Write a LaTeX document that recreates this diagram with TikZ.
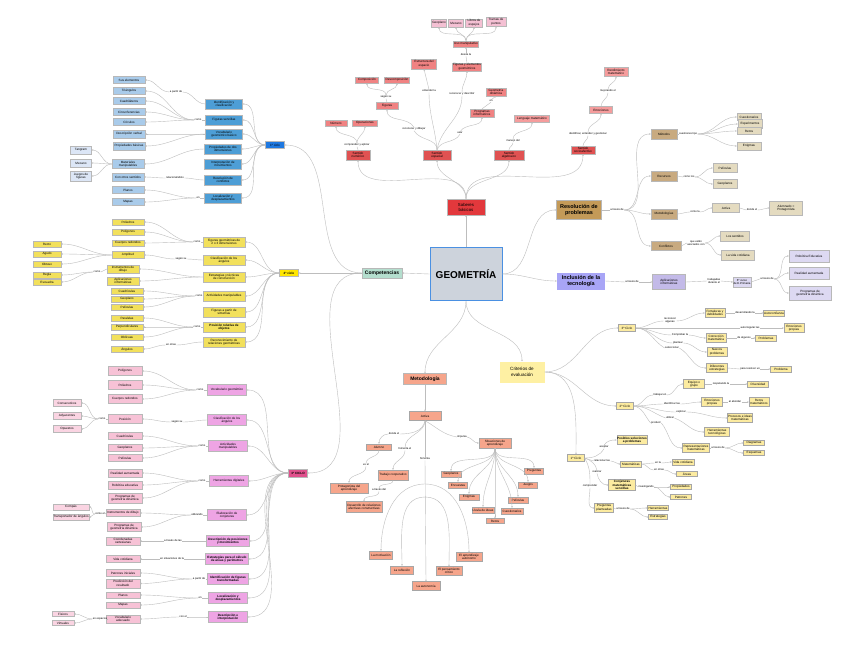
\documentclass[tikz,border=0pt]{standalone}
\usepackage{fontspec}
\setmainfont{Liberation Sans}
\usetikzlibrary{arrows.meta}

\definecolor{lineGray}{HTML}{BDBDBD}
\definecolor{centerFill}{HTML}{CDD3DC}
\definecolor{centerBorder}{HTML}{4A90E2}
\definecolor{redStrong}{HTML}{E2383C}
\definecolor{redSense}{HTML}{E05252}
\definecolor{redMid}{HTML}{F08282}
\definecolor{redSoft}{HTML}{F59C9C}
\definecolor{redLeaf}{HTML}{F4C0D3}
\definecolor{greenTopic}{HTML}{B4DECE}
\definecolor{salmonTopic}{HTML}{F6A58B}
\definecolor{creamTopic}{HTML}{FEF0A3}
\definecolor{tanStrong}{HTML}{C49A58}
\definecolor{tanMid}{HTML}{C8AA80}
\definecolor{tanLeaf}{HTML}{E4DBC0}
\definecolor{lilacStrong}{HTML}{A8A5F6}
\definecolor{lilacMid}{HTML}{C3BAE8}
\definecolor{lilacLeaf}{HTML}{DDD9F2}
\definecolor{blueCycle}{HTML}{1E78E0}
\definecolor{blueMid}{HTML}{4D9ED6}
\definecolor{blueLeaf}{HTML}{A9CBEA}
\definecolor{blueFar}{HTML}{DCE6F6}
\definecolor{yellowCycle}{HTML}{FFE600}
\definecolor{yellowNode}{HTML}{F2E05C}
\definecolor{roseCycle}{HTML}{E0508C}
\definecolor{roseMid}{HTML}{EEA4E4}
\definecolor{roseLeaf}{HTML}{F7C2D6}
\definecolor{roseFar}{HTML}{FAD4E2}
\definecolor{creamNode}{HTML}{FCEBA0}

\begin{document}
\begin{tikzpicture}[x=1pt, y=-1pt,
    geoBox/.style={draw=black!28, line width=0.3pt, inner sep=0.4pt, align=center, font=\fontsize{3.1}{3.6}\selectfont},
    geoBold/.style={font=\fontsize{3.1}{3.6}\selectfont\bfseries},
    geoLabel/.style={inner sep=0.3pt, align=center, font=\fontsize{2.7}{3.1}\selectfont},
    geoLine/.style={draw=lineGray, line width=0.4pt},
    geoArrow/.style={geoLine, -{Stealth[length=1.8pt, width=1.6pt]}},
    geoCenter/.style={draw=centerBorder, line width=0.8pt, fill=centerFill, minimum width=72pt, minimum height=53pt, font=\fontsize{10}{12}\selectfont\bfseries},
    geoTopic/.style={geoBox, font=\fontsize{5}{6}\selectfont\bfseries},
    geoBigTopic/.style={geoBox, font=\fontsize{5.5}{6.6}\selectfont\bfseries},
    geoBlueCycle/.style={geoBox, fill=blueCycle, minimum width=19pt, minimum height=7pt},
    geoBlueMid/.style={geoBox, fill=blueMid, minimum width=37pt, minimum height=10pt},
    geoBlueLeaf/.style={geoBox, fill=blueLeaf, minimum width=32pt, minimum height=7pt},
    geoBlueFar/.style={geoBox, fill=blueFar, minimum width=21pt, minimum height=8pt},
    geoYellowCycle/.style={geoBox, fill=yellowCycle, minimum width=19pt, minimum height=7pt, geoBold},
    geoYellowMid/.style={geoBox, fill=yellowNode, minimum width=42pt, minimum height=10pt},
    geoYellowLeaf/.style={geoBox, fill=yellowNode, minimum width=32pt, minimum height=6.5pt},
    geoYellowFar/.style={geoBox, fill=yellowNode, minimum width=28pt, minimum height=6pt},
    geoRoseCycle/.style={geoBox, fill=roseCycle, minimum width=19pt, minimum height=8pt, geoBold},
    geoRoseMid/.style={geoBox, fill=roseMid, minimum width=39pt, minimum height=11pt},
    geoRoseLeaf/.style={geoBox, fill=roseLeaf, minimum width=34pt, minimum height=7pt},
    geoRoseFar/.style={geoBox, fill=roseFar, minimum width=28pt, minimum height=7pt},
    geoSense/.style={geoBox, fill=redSense, minimum width=26pt, minimum height=10pt},
    geoRedMid/.style={geoBox, fill=redMid, minimum width=22pt, minimum height=6.5pt},
    geoRedSoft/.style={geoBox, fill=redSoft, minimum width=23pt, minimum height=7pt},
    geoRedLeaf/.style={geoBox, fill=redLeaf, minimum width=15pt, minimum height=8pt},
    geoTanMid/.style={geoBox, fill=tanMid, minimum width=26pt, minimum height=10pt},
    geoTanLeaf/.style={geoBox, fill=tanLeaf, minimum width=24pt, minimum height=7pt},
    geoLilacLeaf/.style={geoBox, fill=lilacLeaf, minimum width=40pt, minimum height=12pt},
    geoCream/.style={geoBox, fill=creamNode, draw=black!35, minimum width=21pt, minimum height=6pt},
    geoSalmon/.style={geoBox, fill=salmonTopic, draw=black!35, minimum width=20pt, minimum height=6pt}]

    \fill[white] (0,0) rectangle (848,655);
    \useasboundingbox (0,0) rectangle (848,655);

    % centro y ramas principales
    \node[geoCenter] (geo) at (466,274) {GEOMETRÍA};
    \node[geoBox, fill=redStrong, minimum width=38pt, minimum height=16pt, font=\fontsize{4.3}{5}\selectfont] (sab) at (466,207) {Saberes\\básicos};
    \node[geoTopic, fill=greenTopic, minimum width=40pt, minimum height=10pt] (comp) at (382,273) {Competencias};
    \node[geoTopic, fill=salmonTopic, minimum width=43pt, minimum height=11pt] (met) at (425,379) {Metodología};
    \node[geoBox, fill=creamTopic, draw=none, minimum width=45pt, minimum height=21pt, font=\fontsize{4.6}{5.6}\selectfont] (crit) at (522,372) {Criterios de\\evaluación};
    \node[geoBigTopic, fill=tanStrong, minimum width=45pt, minimum height=19pt] (resol) at (579,210) {Resolución de\\problemas};
    \node[geoBigTopic, fill=lilacStrong, draw=none, minimum width=48pt, minimum height=17pt] (inclus) at (581,281) {Inclusión de la\\tecnología};

    \draw[geoArrow] (geo.north) -- (sab.south);
    \draw[geoArrow] (geo.west) -- (comp.east);
    \draw[geoArrow] (geo.south) to[out=-90, in=90] (met.north);
    \draw[geoArrow] (geo.south) to[out=-90, in=90] (crit.north);
    \draw[geoArrow] (geo.east) to[out=0, in=180] (resol.west);
    \draw[geoArrow] (geo.east) to[out=0, in=180] (inclus.west);

    % saberes basicos
    \node[geoSense, minimum width=24pt] (senNum) at (358,155) {Sentido\\numérico};
    \node[geoSense, minimum width=28pt] (senEsp) at (437,155) {Sentido\\espacial};
    \node[geoSense, minimum width=30pt] (senAlg) at (509,155) {Sentido\\algebraico};
    \node[geoSense, minimum width=24pt, minimum height=8pt] (senSoc) at (583,150) {Sentido\\socioafectivo};
    \node[geoRedMid] (numero) at (336,123) {Número};
    \node[geoRedMid, minimum width=25pt] (operac) at (365,123) {Operaciones};
    \node[geoRedMid, minimum height=7pt] (figuras) at (387,106) {Figuras};
    \node[geoRedMid, minimum width=23pt] (compos) at (367,80) {Composición};
    \node[geoRedMid, minimum width=25pt] (descomp) at (397,80) {Descomposición};
    \node[geoRedMid, minimum width=25pt, minimum height=10pt] (estEsp) at (424,64) {Estructura del\\espacio};
    \node[geoRedMid, minimum width=29pt, minimum height=8pt] (figEle) at (467,67) {Figuras y elementos\\geométricos};
    \node[geoRedMid, minimum width=25pt] (usoMan) at (466,44) {Uso manipulativo};
    \node[geoRedLeaf] (geopTop) at (439,23) {Geoplano};
    \node[geoRedLeaf] (mecTop) at (456,23) {Mecano};
    \node[geoRedLeaf, minimum width=17pt] (libEsp) at (474,23) {Libros de\\espejos};
    \node[geoRedLeaf, minimum width=20pt, minimum height=9pt] (traPun) at (496,22) {Tramas de\\puntos};
    \node[geoRedMid, minimum width=20pt, minimum height=8pt] (geoDin) at (496,92) {Geometría\\dinámica};
    \node[geoRedMid, minimum width=24pt, minimum height=8pt] (progInf) at (482,113) {Programas\\informáticos};
    \node[geoRedSoft, minimum width=35pt] (lenMat) at (532,119) {Lenguaje matemático};
    \node[geoRedSoft] (emoc) at (601,110) {Emociones};
    \node[geoRedSoft, minimum width=24pt, minimum height=9pt] (rendMat) at (616,72) {Rendimiento\\matemático};

    \node[geoLabel] (lbCompApl) at (357,145) {comprender y aplicar};
    \node[geoLabel] (lbRecDib) at (414,129) {reconocer y dibujar};
    \node[geoLabel] (lbSegunTop) at (386,97) {según su};
    \node[geoLabel] (lbEntender) at (429,91) {entender la};
    \node[geoLabel] (lbRecDes) at (462,94) {reconocer y describir};
    \node[geoLabel] (lbDesdeLa) at (466,55) {desde la};
    \node[geoLabel] (lbUsar) at (460,133) {usar};
    \node[geoLabel] (lbEnTop) at (491,101) {en};
    \node[geoLabel] (lbManejo) at (513,141) {manejo del};
    \node[geoLabel] (lbIdent) at (588,134) {identificar, entender y gestionar};
    \node[geoLabel] (lbMejor) at (608,91) {mejorando el};

    \foreach \s in {senNum,senEsp,senAlg,senSoc}
        \draw[geoArrow] (sab.north) to[out=90, in=-90] (\s.south);
    \draw[geoLine] (senNum.north) -- (lbCompApl.south);
    \draw[geoArrow] (lbCompApl.north) to[out=90, in=-90] (numero.south);
    \draw[geoArrow] (lbCompApl.north) to[out=90, in=-90] (operac.south);
    \draw[geoLine] (senEsp.north) to[out=90, in=-60] (lbRecDib.south);
    \draw[geoArrow] (lbRecDib.north) to[out=120, in=-90] (figuras.south);
    \draw[geoLine] (figuras.north) -- (lbSegunTop.south);
    \draw[geoArrow] (lbSegunTop.north) to[out=90, in=-90] (compos.south);
    \draw[geoArrow] (lbSegunTop.north) to[out=90, in=-90] (descomp.south);
    \draw[geoLine] (senEsp.north) to[out=95, in=-90] (lbEntender.south);
    \draw[geoArrow] (lbEntender.north) -- (estEsp.south);
    \draw[geoLine] (senEsp.north) to[out=80, in=-90] (lbRecDes.south);
    \draw[geoArrow] (lbRecDes.north) to[out=90, in=-90] (figEle.south);
    \draw[geoLine] (figEle.north) -- (lbDesdeLa.south);
    \draw[geoArrow] (lbDesdeLa.north) -- (usoMan.south);
    \foreach \s in {geopTop,mecTop,libEsp,traPun}
        \draw[geoArrow] (usoMan.north) to[out=90, in=-90] (\s.south);
    \draw[geoLine] (senEsp.north) to[out=70, in=-120] (lbUsar.south);
    \draw[geoArrow] (lbUsar.north) to[out=60, in=-90] (progInf.south);
    \draw[geoLine] (progInf.north) -- (lbEnTop.south);
    \draw[geoArrow] (lbEnTop.north) -- (geoDin.south);
    \draw[geoLine] (senAlg.north) to[out=90, in=-90] (lbManejo.south);
    \draw[geoArrow] (lbManejo.north) to[out=90, in=-90] (lenMat.south);
    \draw[geoLine] (senSoc.north) to[out=90, in=-90] (lbIdent.south);
    \draw[geoArrow] (lbIdent.north) to[out=90, in=-90] (emoc.south);
    \draw[geoLine] (emoc.north) to[out=90, in=-90] (lbMejor.south);
    \draw[geoArrow] (lbMejor.north) to[out=90, in=-90] (rendMat.south);

    % ciclos de competencias
    \node[geoBlueCycle] (cicloUno) at (275,145) {1º ciclo};
    \node[geoYellowCycle] (cicloDos) at (289,273) {2º ciclo};
    \node[geoRoseCycle] (cicloTres) at (298,473) {3º CICLO};
    \draw[geoArrow] (comp.west) to[out=180, in=0] (cicloUno.east);
    \draw[geoArrow] (comp.west) -- (cicloDos.east);
    \draw[geoArrow] (comp.west) to[out=180, in=0] (cicloTres.east);

    % primer ciclo
    \node[geoBlueMid] (idCla) at (224,104) {Identificación y\\clasificación};
    \node[geoBlueMid] (figSen) at (224,120) {Figuras sencillas};
    \node[geoBlueMid] (vocBas) at (224,134) {Vocabulario\\geométrico básico};
    \node[geoBlueMid] (propDos) at (223,149) {Propiedades de dos\\dimensiones};
    \node[geoBlueMid] (intMov) at (223,164) {Interpretación de\\movimientos};
    \node[geoBlueMid] (resCon) at (223,180) {Resolución de\\conflictos};
    \node[geoBlueMid] (locDesUno) at (223,198) {Localización y\\desplazamientos};
    \foreach \s in {idCla,figSen,vocBas,propDos,intMov,resCon,locDesUno}
        \draw[geoArrow] (cicloUno.west) to[out=180, in=0] (\s.east);

    \node[geoBlueLeaf] (susEle) at (129,80) {Sus elementos};
    \node[geoBlueLeaf] (triUno) at (129,91) {Triángulos};
    \node[geoBlueLeaf] (cuaUno) at (129,101) {Cuadriláteros};
    \node[geoBlueLeaf] (cirfUno) at (129,112) {Circunferencias};
    \node[geoBlueLeaf] (cirUno) at (129,122) {Círculos};
    \node[geoBlueLeaf, minimum height=8pt] (desVer) at (129,134) {Descripción verbal};
    \node[geoBlueLeaf, minimum height=8pt] (propBas) at (129,146) {Propiedades básicas};
    \node[geoBlueLeaf, minimum height=9pt] (matMan) at (128,164) {Materiales\\manipulables};
    \node[geoBlueLeaf, minimum height=8pt] (otrSen) at (128,177) {Con otros sentidos};
    \node[geoBlueLeaf] (planUno) at (128,190) {Planos};
    \node[geoBlueLeaf] (mapUno) at (128,202) {Mapas};
    \node[geoBlueFar] (tangram) at (81,150) {Tangram};
    \node[geoBlueFar] (mecUno) at (81,163) {Mecano};
    \node[geoBlueFar, minimum height=10pt] (juegFig) at (81,176) {Juegos de\\figuras};

    \node[geoLabel] (lbApDeUno) at (176,92) {a partir de};
    \node[geoLabel] (lbComoUno) at (198,120) {como};
    \node[geoLabel] (lbRelac) at (175,178) {relacionándolo};
    \node[geoLabel] (lbEnUno) at (198,198) {en};

    \draw[geoLine] (idCla.west) to[out=180, in=0] (lbApDeUno.east);
    \draw[geoArrow] (lbApDeUno.west) to[out=180, in=0] (susEle.east);
    \draw[geoLine] (figSen.west) -- (lbComoUno.east);
    \foreach \s in {triUno,cuaUno,cirfUno,cirUno}
        \draw[geoArrow] (lbComoUno.west) to[out=180, in=0] (\s.east);
    \draw[geoArrow] (vocBas.west) to[out=180, in=0] (desVer.east);
    \draw[geoArrow] (vocBas.west) to[out=180, in=0] (propBas.east);
    \draw[geoArrow] (propDos.west) to[out=180, in=0] (matMan.east);
    \foreach \s in {tangram,mecUno,juegFig}
        \draw[geoArrow] (matMan.west) to[out=180, in=0] (\s.east);
    \draw[geoLine] (resCon.west) to[out=180, in=0] (lbRelac.east);
    \draw[geoArrow] (lbRelac.west) to[out=180, in=0] (otrSen.east);
    \draw[geoLine] (locDesUno.west) -- (lbEnUno.east);
    \draw[geoArrow] (lbEnUno.west) to[out=180, in=0] (planUno.east);
    \draw[geoArrow] (lbEnUno.west) to[out=180, in=0] (mapUno.east);

    % segundo ciclo
    \node[geoYellowMid] (figDim) at (224,242) {Figuras geométricas de\\2 o 3 dimensiones};
    \node[geoYellowMid] (claAngDos) at (224,260) {Clasificación de los\\ángulos};
    \node[geoYellowMid] (estTec) at (224,277) {Estrategias y técnicas\\de construcción};
    \node[geoYellowMid] (actManDos) at (224,296) {Actividades manipulables};
    \node[geoYellowMid] (figSim) at (224,312) {Figuras a partir de\\simetrías};
    \node[geoYellowMid, geoBold] (posRel) at (224,327) {Posición relativa de\\objetos};
    \node[geoYellowMid] (recRel) at (224,342) {Reconocimiento de\\relaciones geométricas};
    \foreach \s in {figDim,claAngDos,estTec,actManDos,figSim,posRel,recRel}
        \draw[geoArrow] (cicloDos.west) to[out=180, in=0] (\s.east);

    \node[geoYellowLeaf] (poliDos) at (128,222) {Poliedros};
    \node[geoYellowLeaf] (poligDos) at (128,232) {Polígonos};
    \node[geoYellowLeaf] (cuerDos) at (128,243) {Cuerpos redondos};
    \node[geoYellowLeaf, minimum height=7pt] (amplitud) at (128,255) {Amplitud};
    \node[geoYellowLeaf, minimum height=8pt] (instDos) at (123,269) {Instrumentos de\\dibujo};
    \node[geoYellowLeaf, minimum height=8pt] (aplDos) at (123,281) {Aplicaciones\\informáticas};
    \node[geoYellowLeaf, minimum height=6pt] (cuadDos) at (127,291) {Cuadrículas};
    \node[geoYellowLeaf, minimum height=6pt] (geopDos) at (127,299) {Geoplano};
    \node[geoYellowLeaf, minimum height=6pt] (pelDos) at (127,307) {Películas};
    \node[geoYellowLeaf] (parDos) at (127,318) {Paralelas};
    \node[geoYellowLeaf] (perpDos) at (127,327) {Perpendiculares};
    \node[geoYellowLeaf] (oblDos) at (127,337) {Oblicuas};
    \node[geoYellowLeaf] (angDos) at (127,349) {Ángulos};
    \node[geoYellowFar] (recto) at (47,244) {Recto};
    \node[geoYellowFar] (agudo) at (47,254) {Agudo};
    \node[geoYellowFar] (obtuso) at (47,264) {Obtuso};
    \node[geoYellowFar] (regla) at (47,275) {Regla};
    \node[geoYellowFar, minimum height=5.5pt] (escuadra) at (47,282) {Escuadra};

    \node[geoLabel] (lbComoDosA) at (197,242) {como};
    \node[geoLabel] (lbSegunDos) at (181,259) {según su};
    \node[geoLabel] (lbComoDosB) at (199,296) {como};
    \node[geoLabel] (lbComoDosC) at (197,327) {como};
    \node[geoLabel] (lbEnOtras) at (171,345) {en otras};
    \node[geoLabel] (lbComoDosD) at (97,272) {como};

    \draw[geoLine] (figDim.west) -- (lbComoDosA.east);
    \foreach \s in {poliDos,poligDos,cuerDos}
        \draw[geoArrow] (lbComoDosA.west) to[out=180, in=0] (\s.east);
    \draw[geoLine] (claAngDos.west) to[out=180, in=0] (lbSegunDos.east);
    \draw[geoArrow] (lbSegunDos.west) to[out=180, in=0] (amplitud.east);
    \foreach \s in {recto,agudo,obtuso}
        \draw[geoArrow] (amplitud.west) to[out=180, in=0] (\s.east);
    \draw[geoArrow] (estTec.west) to[out=180, in=0] (instDos.east);
    \draw[geoArrow] (estTec.west) to[out=180, in=0] (aplDos.east);
    \draw[geoLine] (instDos.west) to[out=180, in=0] (lbComoDosD.east);
    \draw[geoArrow] (lbComoDosD.west) to[out=180, in=0] (regla.east);
    \draw[geoArrow] (lbComoDosD.west) to[out=180, in=0] (escuadra.east);
    \draw[geoLine] (actManDos.west) -- (lbComoDosB.east);
    \foreach \s in {cuadDos,geopDos,pelDos}
        \draw[geoArrow] (lbComoDosB.west) to[out=180, in=0] (\s.east);
    \draw[geoLine] (posRel.west) -- (lbComoDosC.east);
    \foreach \s in {parDos,perpDos,oblDos}
        \draw[geoArrow] (lbComoDosC.west) to[out=180, in=0] (\s.east);
    \draw[geoLine] (recRel.west) to[out=180, in=0] (lbEnOtras.east);
    \draw[geoArrow] (lbEnOtras.west) to[out=180, in=0] (angDos.east);

    % tercer ciclo
    \node[geoRoseMid] (vocGeoTres) at (227,390) {Vocabulario geométrico};
    \node[geoRoseMid] (claAngTres) at (227,420) {Clasificación de los\\ángulos};
    \node[geoRoseMid] (actManTres) at (228,446) {Actividades\\manipulables};
    \node[geoRoseMid] (herDig) at (229,481) {Herramientas digitales};
    \node[geoRoseMid] (elaCon) at (227,515) {Elaboración de\\conjeturas};
    \node[geoRoseMid, geoBold, minimum width=43pt] (desPos) at (228,541) {Descripción de posiciones\\y movimientos};
    \node[geoRoseMid, geoBold, minimum width=43pt] (estCal) at (227,559) {Estrategias para el cálculo\\de áreas y perímetros};
    \node[geoRoseMid, geoBold, minimum width=41pt] (idFig) at (228,579) {Identificación de figuras\\transformadas};
    \node[geoRoseMid, geoBold] (locDesTres) at (228,598) {Localización y\\desplazamientos};
    \node[geoRoseMid, geoBold] (desInt) at (228,617) {Descripción e\\interpretación};
    \foreach \s in {vocGeoTres,claAngTres,actManTres,herDig,elaCon,desPos,estCal,idFig,locDesTres,desInt}
        \draw[geoArrow] (cicloTres.west) to[out=180, in=0] (\s.east);

    \node[geoRoseLeaf, minimum height=9pt] (poligTres) at (125,371) {Polígonos};
    \node[geoRoseLeaf, minimum height=9pt] (poliTres) at (125,385) {Poliedros};
    \node[geoRoseLeaf, minimum height=9pt] (cuerTres) at (125,399) {Cuerpos redondos};
    \node[geoRoseLeaf, minimum height=9pt] (posTres) at (125,419) {Posición};
    \node[geoRoseLeaf] (cuadTres) at (125,436) {Cuadrículas};
    \node[geoRoseLeaf] (geopTres) at (125,448) {Geoplanos};
    \node[geoRoseLeaf] (pelTres) at (125,458) {Películas};
    \node[geoRoseLeaf, minimum height=8pt] (realTres) at (125,473) {Realidad aumentada};
    \node[geoRoseLeaf, minimum height=8pt] (robTres) at (125,485) {Robótica educativa};
    \node[geoRoseLeaf, minimum height=10pt] (progTres) at (125,498) {Programas de\\geometría dinámica};
    \node[geoRoseLeaf] (instTres) at (123,513) {Instrumentos de dibujo};
    \node[geoRoseLeaf, minimum height=9pt] (progTresB) at (124,527) {Programas de\\geometría dinámica};
    \node[geoRoseLeaf, minimum height=8pt] (coordTres) at (123,541) {Coordenadas\\cartesianas};
    \node[geoRoseLeaf] (vidaTres) at (123,559) {Vida cotidiana};
    \node[geoRoseLeaf] (patIni) at (123,573) {Patrones iniciales};
    \node[geoRoseLeaf, minimum height=8.5pt] (predRes) at (123,583.5) {Predicción del\\resultado};
    \node[geoRoseLeaf, minimum height=6pt] (planTres) at (123,595) {Planos};
    \node[geoRoseLeaf, minimum height=6pt] (mapTres) at (123,605) {Mapas};
    \node[geoRoseLeaf, minimum height=8pt] (vocAde) at (123,619) {Vocabulario\\adecuado};
    \node[geoRoseFar] (consec) at (67,403) {Consecutivos};
    \node[geoRoseFar] (adyac) at (67,416) {Adyacentes};
    \node[geoRoseFar] (opuest) at (67,429) {Opuestos};
    \node[geoRoseFar, minimum width=36pt, minimum height=6pt] (compas) at (71,507) {Compás};
    \node[geoRoseFar, minimum width=36pt, minimum height=6pt] (transp) at (71,517) {Transportador de ángulos};
    \node[geoRoseFar, minimum width=22pt, minimum height=5pt] (fisicos) at (63,614) {Físicos};
    \node[geoRoseFar, minimum width=22pt, minimum height=5pt] (virtuales) at (63,623) {Virtuales};

    \node[geoLabel] (lbComoTresA) at (200,390) {como};
    \node[geoLabel] (lbSegunTres) at (177,422) {según su};
    \node[geoLabel] (lbComoTresP) at (102,419) {como};
    \node[geoLabel] (lbComoTresB) at (202,446) {como};
    \node[geoLabel] (lbComoTresC) at (202,481) {como};
    \node[geoLabel] (lbUtiliz) at (197,515) {utilizando};
    \node[geoLabel] (lbComoEl) at (100,514) {como el};
    \node[geoLabel] (lbATravLas) at (173,541) {a través de las};
    \node[geoLabel] (lbSituac) at (172,559) {en situaciones de la};
    \node[geoLabel] (lbApDeTres) at (199,579) {a partir de};
    \node[geoLabel] (lbEnTres) at (200,598) {en};
    \node[geoLabel] (lbConEl) at (183,617) {con el};
    \node[geoLabel] (lbEnEsp) at (100,619) {en espacios};

    \draw[geoLine] (vocGeoTres.west) -- (lbComoTresA.east);
    \foreach \s in {poligTres,poliTres,cuerTres}
        \draw[geoArrow] (lbComoTresA.west) to[out=180, in=0] (\s.east);
    \draw[geoLine] (claAngTres.west) to[out=180, in=0] (lbSegunTres.east);
    \draw[geoArrow] (lbSegunTres.west) to[out=180, in=0] (posTres.east);
    \draw[geoLine] (posTres.west) -- (lbComoTresP.east);
    \foreach \s in {consec,adyac,opuest}
        \draw[geoArrow] (lbComoTresP.west) to[out=180, in=0] (\s.east);
    \draw[geoLine] (actManTres.west) -- (lbComoTresB.east);
    \foreach \s in {cuadTres,geopTres,pelTres}
        \draw[geoArrow] (lbComoTresB.west) to[out=180, in=0] (\s.east);
    \draw[geoLine] (herDig.west) -- (lbComoTresC.east);
    \foreach \s in {realTres,robTres,progTres}
        \draw[geoArrow] (lbComoTresC.west) to[out=180, in=0] (\s.east);
    \draw[geoLine] (elaCon.west) -- (lbUtiliz.east);
    \draw[geoArrow] (lbUtiliz.west) to[out=180, in=0] (instTres.east);
    \draw[geoArrow] (lbUtiliz.west) to[out=180, in=0] (progTresB.east);
    \draw[geoLine] (instTres.west) -- (lbComoEl.east);
    \draw[geoArrow] (lbComoEl.west) to[out=180, in=0] (compas.east);
    \draw[geoArrow] (lbComoEl.west) to[out=180, in=0] (transp.east);
    \draw[geoLine] (desPos.west) -- (lbATravLas.east);
    \draw[geoArrow] (lbATravLas.west) -- (coordTres.east);
    \draw[geoLine] (estCal.west) -- (lbSituac.east);
    \draw[geoArrow] (lbSituac.west) -- (vidaTres.east);
    \draw[geoLine] (idFig.west) -- (lbApDeTres.east);
    \draw[geoArrow] (lbApDeTres.west) to[out=180, in=0] (patIni.east);
    \draw[geoArrow] (lbApDeTres.west) to[out=180, in=0] (predRes.east);
    \draw[geoLine] (locDesTres.west) -- (lbEnTres.east);
    \draw[geoArrow] (lbEnTres.west) to[out=180, in=0] (planTres.east);
    \draw[geoArrow] (lbEnTres.west) to[out=180, in=0] (mapTres.east);
    \draw[geoLine] (desInt.west) to[out=180, in=0] (lbConEl.east);
    \draw[geoArrow] (lbConEl.west) to[out=180, in=0] (vocAde.east);
    \draw[geoLine] (vocAde.west) -- (lbEnEsp.east);
    \draw[geoArrow] (lbEnEsp.west) to[out=180, in=0] (fisicos.east);
    \draw[geoArrow] (lbEnEsp.west) to[out=180, in=0] (virtuales.east);

    % resolucion de problemas
    \node[geoTanMid] (metodos) at (664,134) {Métodos};
    \node[geoTanMid] (recursos) at (664,176) {Recursos};
    \node[geoTanMid] (metodol) at (664,214) {Metodologías};
    \node[geoTanMid, minimum width=30pt, minimum height=9pt] (conflic) at (666,246) {Conflictos};
    \node[geoTanLeaf] (cuest) at (749,117) {Cuestionarios};
    \node[geoTanLeaf, minimum height=9pt] (exper) at (750,124) {Experimentos};
    \node[geoTanLeaf] (retosR) at (749,131) {Retos};
    \node[geoTanLeaf, minimum height=8pt] (enigR) at (749,146) {Enigmas};
    \node[geoTanLeaf, minimum height=9pt] (pelR) at (725,168) {Películas};
    \node[geoTanLeaf, minimum height=9pt] (geopR) at (725,184) {Geoplanos};
    \node[geoTanLeaf, minimum width=27pt, minimum height=9pt] (activaR) at (726,208) {Activa};
    \node[geoTanLeaf, minimum width=33pt, minimum height=14pt] (alumProt) at (786,208) {Alumnado =\\Protagonista};
    \node[geoTanLeaf, minimum width=29pt, minimum height=10pt] (losSen) at (735,236) {Los sentidos};
    \node[geoTanLeaf, minimum width=33pt, minimum height=10pt] (vidaCot) at (738,255) {La vida cotidiana};

    \node[geoLabel] (lbATravRes) at (617,210) {a través de};
    \node[geoLabel] (lbCuesTipo) at (688,134) {cuestiones tipo};
    \node[geoLabel] (lbComoLos) at (689,177) {como los};
    \node[geoLabel] (lbComoLa) at (695,212) {como la};
    \node[geoLabel] (lbDondeRes) at (752,210) {donde el};
    \node[geoLabel] (lbAsoc) at (696,243) {que estén\\asociados con};

    \draw[geoLine] (resol.east) -- (lbATravRes.west);
    \foreach \s in {metodos,recursos,metodol,conflic}
        \draw[geoArrow] (lbATravRes.east) to[out=0, in=180] (\s.west);
    \draw[geoLine] (metodos.east) -- (lbCuesTipo.west);
    \foreach \s in {cuest,exper,retosR,enigR}
        \draw[geoArrow] (lbCuesTipo.east) to[out=0, in=180] (\s.west);
    \draw[geoLine] (recursos.east) -- (lbComoLos.west);
    \draw[geoArrow] (lbComoLos.east) to[out=0, in=180] (pelR.west);
    \draw[geoArrow] (lbComoLos.east) to[out=0, in=180] (geopR.west);
    \draw[geoLine] (metodol.east) to[out=0, in=180] (lbComoLa.west);
    \draw[geoArrow] (lbComoLa.east) to[out=0, in=180] (activaR.west);
    \draw[geoLine] (activaR.east) -- (lbDondeRes.west);
    \draw[geoArrow] (lbDondeRes.east) to[out=0, in=180] (alumProt.west);
    \draw[geoLine] (conflic.east) to[out=0, in=180] (lbAsoc.west);
    \draw[geoArrow] (lbAsoc.east) to[out=0, in=180] (losSen.west);
    \draw[geoArrow] (lbAsoc.east) to[out=0, in=180] (vidaCot.west);

    % inclusion de la tecnologia
    \node[geoBox, fill=lilacMid, minimum width=33pt, minimum height=15pt] (aplInf) at (669,282) {Aplicaciones\\informáticas};
    \node[geoBox, fill=lilacLeaf, minimum width=17pt, minimum height=10pt, font=\fontsize{2.8}{3.3}\selectfont] (sexCur) at (742,282) {6º curso\\de E.Primaria};
    \node[geoLilacLeaf] (robEdu) at (809,256) {Robótica Educativa};
    \node[geoLilacLeaf] (realAum) at (809,273) {Realidad aumentada};
    \node[geoLilacLeaf, minimum width=42pt, minimum height=14pt] (progGeo) at (810,293) {Programas de\\geometría dinámica};
    \node[geoLabel] (lbATravInc) at (632,282) {a través de};
    \node[geoLabel] (lbTrabaj) at (714,281) {trabajadas\\durante el};
    \node[geoLabel] (lbATravSex) at (767,279) {a través de};

    \draw[geoLine] (inclus.east) -- (lbATravInc.west);
    \draw[geoArrow] (lbATravInc.east) -- (aplInf.west);
    \draw[geoLine] (aplInf.east) -- (lbTrabaj.west);
    \draw[geoArrow] (lbTrabaj.east) -- (sexCur.west);
    \draw[geoLine] (sexCur.east) -- (lbATravSex.west);
    \foreach \s in {robEdu,realAum,progGeo}
        \draw[geoArrow] (lbATravSex.east) to[out=0, in=180] (\s.west);

    % criterios de evaluacion
    \node[geoCream, minimum width=17pt, minimum height=7pt] (tresCic) at (627,328) {3º Ciclo};
    \node[geoCream, minimum width=17pt, minimum height=7pt] (dosCic) at (625,406) {2º Ciclo};
    \node[geoCream, minimum width=17pt, minimum height=7pt] (unoCic) at (576,458) {1º Ciclo};
    \draw[geoArrow] (crit.east) to[out=0, in=180] (tresCic.west);
    \draw[geoArrow] (crit.east) to[out=0, in=180] (dosCic.west);
    \draw[geoArrow] (crit.east) to[out=0, in=90] (unoCic.north);

    \node[geoCream, minimum width=20pt, minimum height=9pt] (fortDeb) at (715,313) {Fortalezas y\\debilidades};
    \node[geoCream] (autoconf) at (774,313) {Autoconfianza};
    \node[geoCream, minimum width=20pt, minimum height=9pt] (emoPropTres) at (794,328) {Emociones\\propias};
    \node[geoCream, minimum width=20pt, minimum height=9pt] (corrMat) at (716,338) {Corrección\\matemática};
    \node[geoCream] (problTres) at (766,338) {Problemas};
    \node[geoCream, minimum width=20pt, minimum height=9pt] (nuevProb) at (717,352) {Nuevos\\problemas};
    \node[geoCream, minimum width=21pt, minimum height=9pt] (difEst) at (717,368) {Diferentes\\estrategias};
    \node[geoCream] (problema) at (781,369) {Problema};
    \node[geoLabel] (lbRecAlg) at (670,321) {reconocer\\algunas};
    \node[geoLabel] (lbDesarr) at (745,313) {desarrollando la};
    \node[geoLabel] (lbAutorr) at (750,328) {autorregular las};
    \node[geoLabel] (lbComprob) at (680,335) {Comprobar la};
    \node[geoLabel] (lbDeAlg) at (744,338) {de algunos};
    \node[geoLabel] (lbPlant) at (678,343) {plantear};
    \node[geoLabel] (lbSelecc) at (672,348) {seleccionar};
    \node[geoLabel] (lbParaRes) at (750,369) {para resolver un};

    \draw[geoLine] (tresCic.east) to[out=0, in=180] (lbRecAlg.west);
    \draw[geoArrow] (lbRecAlg.east) to[out=0, in=180] (fortDeb.west);
    \draw[geoLine] (fortDeb.east) -- (lbDesarr.west);
    \draw[geoArrow] (lbDesarr.east) -- (autoconf.west);
    \draw[geoLine] (tresCic.east) -- (lbAutorr.west);
    \draw[geoArrow] (lbAutorr.east) -- (emoPropTres.west);
    \draw[geoLine] (tresCic.east) to[out=0, in=180] (lbComprob.west);
    \draw[geoArrow] (lbComprob.east) to[out=0, in=180] (corrMat.west);
    \draw[geoLine] (corrMat.east) -- (lbDeAlg.west);
    \draw[geoArrow] (lbDeAlg.east) -- (problTres.west);
    \draw[geoLine] (tresCic.east) to[out=0, in=180] (lbPlant.west);
    \draw[geoArrow] (lbPlant.east) to[out=0, in=180] (nuevProb.west);
    \draw[geoLine] (tresCic.east) to[out=0, in=150] (lbSelecc.west);
    \draw[geoArrow] (lbSelecc.east) to[out=-30, in=180] (difEst.west);
    \draw[geoLine] (difEst.east) -- (lbParaRes.west);
    \draw[geoArrow] (lbParaRes.east) -- (problema.west);

    \node[geoCream, minimum width=21pt, minimum height=9pt] (equipo) at (694,384) {Equipo o\\grupo};
    \node[geoCream] (diversidad) at (758,384) {Diversidad};
    \node[geoCream, minimum width=21pt, minimum height=9pt] (emoPropDos) at (712,402) {Emociones\\propias};
    \node[geoCream, minimum width=20pt, minimum height=9pt] (retosMat) at (759,402) {Retos\\matemáticos};
    \node[geoCream, minimum width=25pt, minimum height=9pt] (procIdeas) at (740,418) {Procesos e ideas\\matemáticas};
    \node[geoCream, minimum width=25pt, minimum height=9pt] (herrTec) at (717,432) {Herramientas\\tecnológicas};
    \node[geoCream, minimum width=27pt, minimum height=9pt] (repMat) at (696,448) {Representaciones\\matemáticas};
    \node[geoCream, minimum height=5pt] (diagramas) at (754,443) {Diagramas};
    \node[geoCream, minimum height=5pt] (esquemas) at (754,453) {Esquemas};
    \node[geoLabel] (lbTrabEn) at (660,395) {trabajar en};
    \node[geoLabel] (lbRespet) at (721,384) {respetando la};
    \node[geoLabel] (lbIdentLas) at (672,404) {identificar las};
    \node[geoLabel] (lbAlAbord) at (735,402) {al abordar};
    \node[geoLabel] (lbExplic) at (681,412) {explicar};
    \node[geoLabel] (lbUtilizar) at (670,418) {utilizar};
    \node[geoLabel] (lbProduc) at (656,423) {producir};
    \node[geoLabel] (lbATravRep) at (718,448) {a través de};

    \draw[geoLine] (dosCic.east) to[out=0, in=180] (lbTrabEn.west);
    \draw[geoArrow] (lbTrabEn.east) to[out=0, in=180] (equipo.west);
    \draw[geoLine] (equipo.east) -- (lbRespet.west);
    \draw[geoArrow] (lbRespet.east) -- (diversidad.west);
    \draw[geoLine] (dosCic.east) to[out=0, in=180] (lbIdentLas.west);
    \draw[geoArrow] (lbIdentLas.east) to[out=0, in=180] (emoPropDos.west);
    \draw[geoLine] (emoPropDos.east) -- (lbAlAbord.west);
    \draw[geoArrow] (lbAlAbord.east) -- (retosMat.west);
    \draw[geoLine] (dosCic.east) to[out=0, in=180] (lbExplic.west);
    \draw[geoArrow] (lbExplic.east) to[out=0, in=180] (procIdeas.west);
    \draw[geoLine] (dosCic.east) to[out=0, in=160] (lbUtilizar.west);
    \draw[geoArrow] (lbUtilizar.east) to[out=-20, in=180] (herrTec.west);
    \draw[geoLine] (dosCic.east) to[out=-10, in=130] (lbProduc.west);
    \draw[geoArrow] (lbProduc.east) to[out=-50, in=180] (repMat.west);
    \draw[geoLine] (repMat.east) -- (lbATravRep.west);
    \draw[geoArrow] (lbATravRep.east) to[out=0, in=180] (diagramas.west);
    \draw[geoArrow] (lbATravRep.east) to[out=0, in=180] (esquemas.west);

    \node[geoCream, geoBold, minimum width=29pt, minimum height=9pt] (posSol) at (632,440) {Posibles soluciones\\a problemas};
    \node[geoCream] (matem) at (631,464) {Matemáticas};
    \node[geoCream, minimum width=22pt] (vidaCotC) at (683,462) {Vida cotidiana};
    \node[geoCream, minimum height=5pt] (areas) at (687,474) {Áreas};
    \node[geoCream, geoBold, minimum width=27pt, minimum height=11pt] (conjet) at (622,485) {Conjeturas\\matemáticas\\sencillas};
    \node[geoCream, minimum height=5pt] (propied) at (681,487) {Propiedades};
    \node[geoCream, minimum height=5pt] (patrones) at (681,497) {Patrones};
    \node[geoCream, minimum width=19pt, minimum height=9pt] (pregPlan) at (604,508) {Preguntas\\planteadas};
    \node[geoCream, minimum height=5pt] (herram) at (658,508) {Herramientas};
    \node[geoCream, minimum width=19pt, minimum height=5pt] (estrateg) at (658,517) {Estrategias};
    \node[geoLabel] (lbAcept) at (604,447) {aceptar};
    \node[geoLabel] (lbRelLas) at (602,461) {relacionar las};
    \node[geoLabel] (lbEnLa) at (658,463) {en la};
    \node[geoLabel] (lbEnOtrasC) at (659,470) {en otras};
    \node[geoLabel] (lbRealiz) at (597,472) {realizar};
    \node[geoLabel] (lbInvest) at (646,487) {investigando};
    \node[geoLabel] (lbCompren) at (590,486) {comprender};
    \node[geoLabel] (lbATravPreg) at (623,509) {a través de};

    \draw[geoLine] (unoCic.east) to[out=0, in=-120] (lbAcept.south);
    \draw[geoArrow] (lbAcept.north) to[out=60, in=180] (posSol.west);
    \draw[geoLine] (unoCic.east) to[out=0, in=180] (lbRelLas.west);
    \draw[geoArrow] (lbRelLas.east) to[out=0, in=180] (matem.west);
    \draw[geoLine] (matem.east) to[out=0, in=180] (lbEnLa.west);
    \draw[geoArrow] (lbEnLa.east) to[out=0, in=180] (vidaCotC.west);
    \draw[geoLine] (matem.east) to[out=0, in=180] (lbEnOtrasC.west);
    \draw[geoArrow] (lbEnOtrasC.east) to[out=0, in=180] (areas.west);
    \draw[geoLine] (unoCic.east) to[out=-20, in=100] (lbRealiz.north);
    \draw[geoArrow] (lbRealiz.south) to[out=-80, in=180] (conjet.west);
    \draw[geoLine] (conjet.east) -- (lbInvest.west);
    \draw[geoArrow] (lbInvest.east) to[out=0, in=180] (propied.west);
    \draw[geoArrow] (lbInvest.east) to[out=0, in=180] (patrones.west);
    \draw[geoLine] (unoCic.east) to[out=-60, in=90] (lbCompren.north);
    \draw[geoArrow] (lbCompren.south) to[out=-90, in=180] (pregPlan.west);
    \draw[geoLine] (pregPlan.east) -- (lbATravPreg.west);
    \draw[geoArrow] (lbATravPreg.east) to[out=0, in=180] (herram.west);
    \draw[geoArrow] (lbATravPreg.east) to[out=0, in=180] (estrateg.west);

    % metodologia
    \node[geoSalmon, minimum width=32pt, minimum height=9pt] (activa) at (425,416) {Activa};
    \node[geoSalmon, minimum width=25pt] (alumno) at (379,447) {Alumno};
    \node[geoSalmon, minimum width=32pt, minimum height=10pt] (situac) at (495,443) {Situaciones de\\aprendizaje};
    \node[geoSalmon, minimum width=38pt, minimum height=10pt] (protag) at (349,488) {Protagonista del\\aprendizaje};
    \node[geoSalmon, minimum width=30pt, minimum height=10pt] (trabCoop) at (393,475) {Trabajo cooperativo};
    \node[geoSalmon, minimum width=36pt, minimum height=11pt] (desRel) at (364,507) {Desarrollo de relaciones\\afectivas constructivas};
    \node[geoSalmon] (geopM) at (451,474) {Geoplanos};
    \node[geoSalmon, minimum width=19pt] (pregM) at (534,471) {Preguntas};
    \node[geoSalmon, minimum width=19pt] (encM) at (458,485) {Encuestas};
    \node[geoSalmon, minimum width=19pt] (juegM) at (528,485) {Juegos};
    \node[geoSalmon] (enigM) at (469,497) {Enigmas};
    \node[geoSalmon] (pelM) at (518,500) {Películas};
    \node[geoSalmon, minimum width=22pt] (lluvM) at (483,510) {Lluvia de ideas};
    \node[geoSalmon, minimum width=22pt] (cuestM) at (512,511) {Cuestionarios};
    \node[geoSalmon, minimum width=18pt, minimum height=5pt] (retM) at (495,521) {Retos};
    \node[geoSalmon, minimum width=23pt, minimum height=8pt] (motiv) at (381,555) {La motivación};
    \node[geoSalmon, minimum width=26pt, minimum height=9pt] (apAut) at (469,557) {El aprendizaje\\autónomo};
    \node[geoSalmon, minimum width=23pt, minimum height=8pt] (reflex) at (402,570) {La reflexión};
    \node[geoSalmon, minimum width=26pt, minimum height=9pt] (pensCrit) at (449,571) {El pensamiento\\crítico};
    \node[geoSalmon, minimum width=28pt, minimum height=9pt] (autonom) at (426,586) {La autonomía};
    \node[geoLabel] (lbDondeM) at (394,434) {donde el};
    \node[geoLabel] (lbEsEl) at (366,465) {es el};
    \node[geoLabel] (lbFomEl) at (405,449) {fomenta el};
    \node[geoLabel] (lbATravDel) at (379,490) {a través del};
    \node[geoLabel] (lbImpulsa) at (462,437) {impulsa};
    \node[geoLabel] (lbFomenta) at (425,459) {fomenta};
    \coordinate (arcExt) at (425,484);
    \coordinate (arcInt) at (425,497);

    \draw[geoArrow] (met.south) -- (activa.north);
    \draw[geoLine] (activa.south) to[out=-100, in=0] (lbDondeM.east);
    \draw[geoArrow] (lbDondeM.west) to[out=180, in=90] (alumno.north);
    \draw[geoLine] (alumno.south) to[out=-90, in=90] (lbEsEl.north);
    \draw[geoArrow] (lbEsEl.south) to[out=-90, in=90] (protag.north);
    \draw[geoLine] (activa.south) to[out=-90, in=90] (lbFomEl.north);
    \draw[geoArrow] (lbFomEl.south) to[out=-90, in=90] (trabCoop.north);
    \draw[geoLine] (trabCoop.south) to[out=-90, in=90] (lbATravDel.north);
    \draw[geoArrow] (lbATravDel.south) to[out=-90, in=90] (desRel.north);
    \draw[geoLine] (activa.south) to[out=-30, in=170] (lbImpulsa.west);
    \draw[geoArrow] (lbImpulsa.east) to[out=-10, in=180] (situac.west);
    \draw[geoLine] (activa.south) -- (lbFomenta.north);
    \draw[geoArrow] (lbFomenta.south) -- (autonom.north);
    \draw[geoArrow] (arcExt) to[out=180, in=90] (motiv.north);
    \draw[geoArrow] (arcExt) to[out=0, in=90] (apAut.north);
    \draw[geoArrow] (arcInt) to[out=180, in=90] (reflex.north);
    \draw[geoArrow] (arcInt) to[out=0, in=90] (pensCrit.north);
    \foreach \s in {geopM,pregM,encM,juegM,enigM,pelM,lluvM,cuestM,retM}
        \draw[geoArrow] (situac.south) to[out=-90, in=90] (\s.north);
\end{tikzpicture}
\end{document}
